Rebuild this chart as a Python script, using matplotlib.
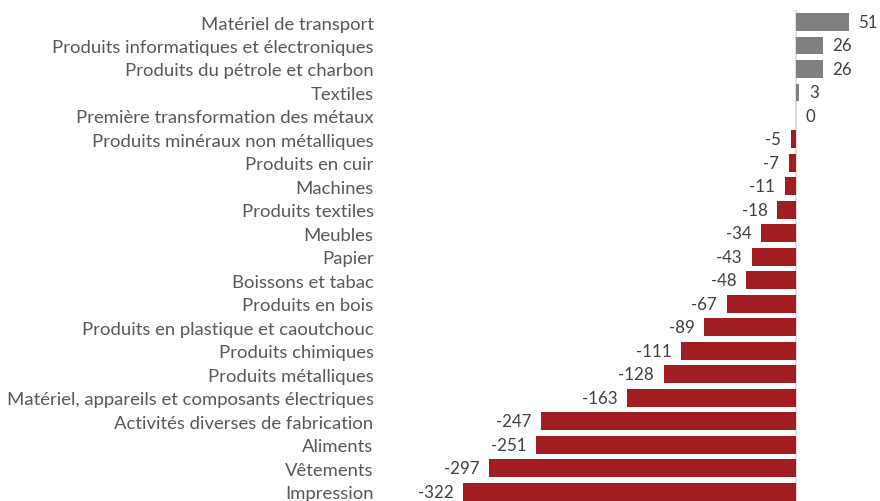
import matplotlib
matplotlib.use("Agg")
import matplotlib.pyplot as plt

categories = [
    "Matériel de transport",
    "Produits informatiques et électroniques",
    "Produits du pétrole et charbon",
    "Textiles",
    "Première transformation des métaux",
    "Produits minéraux non métalliques",
    "Produits en cuir",
    "Machines",
    "Produits textiles",
    "Meubles",
    "Papier",
    "Boissons et tabac",
    "Produits en bois",
    "Produits en plastique et caoutchouc",
    "Produits chimiques",
    "Produits métalliques",
    "Matériel, appareils et composants électriques",
    "Activités diverses de fabrication",
    "Aliments",
    "Vêtements",
    "Impression",
]
values = [51, 26, 26, 3, 0, -5, -7, -11, -18, -34, -43, -48, -67, -89, -111, -128, -163, -247, -251, -297, -322]

plt.rcParams['font.family'] = ['Lato', 'DejaVu Sans']

fig = plt.figure(figsize=(8.8, 5.02), dpi=100)
ax = fig.add_axes([400/880, 0, 480/880, 1])

n = len(categories)
pos = list(range(n))
colors = ['#808080' if v >= 0 else '#A21D22' for v in values]
ax.barh(pos, values, height=0.76, color=colors)
ax.vlines(0, -0.5, n - 0.5 + 0.4, color='#D9D9D9', lw=1.2, zorder=0)

ax.set_xlim(-383, 81.2)
ax.set_ylim(n - 1 + 0.4, -0.98)

for p, v in zip(pos, values):
    if v >= 0:
        ax.annotate(str(v), (v, p), xytext=(7, 0), textcoords='offset points',
                    ha='left', va='center', fontsize=12.2, color='#404040')
    else:
        ax.annotate(str(v), (v, p), xytext=(-7, 0), textcoords='offset points',
                    ha='right', va='center', fontsize=12.2, color='#404040')

ax.set_yticks(pos)
ax.set_yticklabels(categories, fontsize=13.3, color='#595959')
ax.tick_params(axis='y', length=0, pad=19)
ax.set_xticks([])
for s in ax.spines.values():
    s.set_visible(False)

fig.savefig('out.png', dpi=100)
